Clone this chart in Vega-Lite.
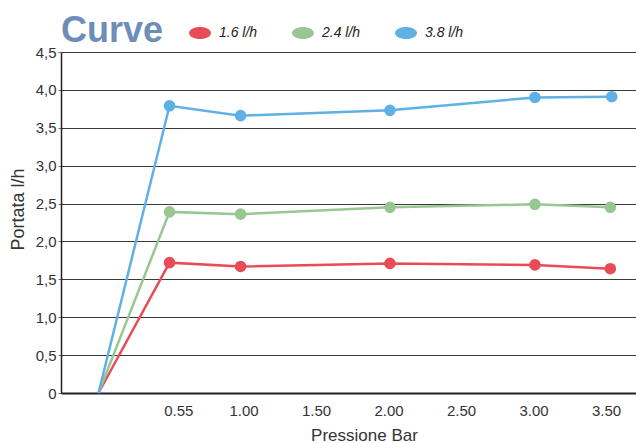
{
  "$schema": "https://vega.github.io/schema/vega-lite/v6.json",
  "autosize": {"type": "none"},
  "width": 575,
  "height": 341,
  "padding": {"left": 61, "top": 52, "right": 0, "bottom": 50},
  "background": "white",
  "title": {
    "text": "Curve",
    "anchor": "start",
    "frame": "group",
    "dx": 0,
    "dy": 66,
    "offset": 10,
    "baseline": "alphabetic",
    "font": "Liberation Sans",
    "fontSize": 36,
    "fontWeight": "bold",
    "color": "#6e8db8"
  },
  "data": {
    "values": [
      {"p": 0, "q": 0, "s": "1.6 l/h"},
      {"p": 0.49, "q": 1.72, "s": "1.6 l/h"},
      {"p": 0.98, "q": 1.67, "s": "1.6 l/h"},
      {"p": 2.01, "q": 1.71, "s": "1.6 l/h"},
      {"p": 3.01, "q": 1.69, "s": "1.6 l/h"},
      {"p": 3.53, "q": 1.64, "s": "1.6 l/h"},
      {"p": 0, "q": 0, "s": "2.4 l/h"},
      {"p": 0.49, "q": 2.39, "s": "2.4 l/h"},
      {"p": 0.98, "q": 2.36, "s": "2.4 l/h"},
      {"p": 2.01, "q": 2.45, "s": "2.4 l/h"},
      {"p": 3.01, "q": 2.49, "s": "2.4 l/h"},
      {"p": 3.53, "q": 2.45, "s": "2.4 l/h"},
      {"p": 0, "q": 0, "s": "3.8 l/h"},
      {"p": 0.49, "q": 3.79, "s": "3.8 l/h"},
      {"p": 0.98, "q": 3.66, "s": "3.8 l/h"},
      {"p": 2.01, "q": 3.73, "s": "3.8 l/h"},
      {"p": 3.01, "q": 3.90, "s": "3.8 l/h"},
      {"p": 3.54, "q": 3.91, "s": "3.8 l/h"}
    ]
  },
  "encoding": {
    "x": {
      "field": "p",
      "type": "quantitative",
      "scale": {"domain": [-0.2586, 3.707], "nice": false, "zero": false},
      "axis": {
        "title": "Pressione Bar",
        "values": [0.55, 1, 1.5, 2, 2.5, 3, 3.5],
        "format": ".2f",
        "grid": false,
        "ticks": false,
        "tickSize": 0,
        "labelPadding": 10,
        "labelFont": "Liberation Sans",
        "labelFontSize": 15,
        "labelColor": "#333333",
        "domain": true,
        "domainColor": "#222222",
        "domainWidth": 2,
        "titleFont": "Liberation Sans",
        "titleFontSize": 17,
        "titleFontWeight": "normal",
        "titleColor": "#333333",
        "titleX": 303,
        "titleY": 47,
        "titleAlign": "center",
        "titleBaseline": "alphabetic"
      }
    },
    "y": {
      "field": "q",
      "type": "quantitative",
      "scale": {"domain": [0, 4.5], "nice": false},
      "axis": {
        "title": "Portata l/h",
        "values": [0, 0.5, 1, 1.5, 2, 2.5, 3, 3.5, 4, 4.5],
        "labelExpr": "datum.value == 0 ? '0' : replace(format(datum.value, '.1f'), '.', ',')",
        "grid": true,
        "gridColor": "#3a3a3a",
        "gridWidth": 1,
        "gridOpacity": 1,
        "ticks": true,
        "tickSize": 3,
        "tickColor": "#777777",
        "labelPadding": 2,
        "labelFont": "Liberation Sans",
        "labelFontSize": 15,
        "labelColor": "#333333",
        "domain": true,
        "domainColor": "#222222",
        "domainWidth": 1.5,
        "titleFont": "Liberation Sans",
        "titleFontSize": 18,
        "titleFontWeight": "normal",
        "titleColor": "#333333",
        "titleX": -43,
        "titleY": 157,
        "titleAngle": 270,
        "titleAlign": "center",
        "titleBaseline": "middle"
      }
    },
    "color": {
      "field": "s",
      "type": "nominal",
      "scale": {
        "domain": ["1.6 l/h", "2.4 l/h", "3.8 l/h"],
        "range": ["#e84c56", "#98c793", "#5eb0e5"]
      },
      "legend": {
        "title": null,
        "orient": "none",
        "direction": "horizontal",
        "legendX": 128,
        "legendY": -30,
        "padding": 0,
        "symbolType": "M -1 0 A 1 0.55 0 1 1 1 0 A 1 0.55 0 1 1 -1 0 Z",
        "symbolSize": 484,
        "symbolStrokeWidth": 0,
        "symbolOpacity": 1,
        "labelFont": "Liberation Sans",
        "labelFontSize": 14,
        "labelFontStyle": "italic",
        "labelColor": "#222222",
        "labelOffset": 8,
        "columnPadding": 34,
        "encode": {
          "symbols": {
            "update": {
              "fill": {"scale": "color", "field": "value"},
              "stroke": {"value": "transparent"}
            }
          }
        }
      }
    }
  },
  "layer": [
    {
      "mark": {"type": "line", "strokeWidth": 2.5}
    },
    {
      "transform": [{"filter": "datum.p > 0"}],
      "mark": {"type": "point", "filled": true, "size": 135, "opacity": 1}
    }
  ],
  "config": {
    "view": {"stroke": null}
  }
}
